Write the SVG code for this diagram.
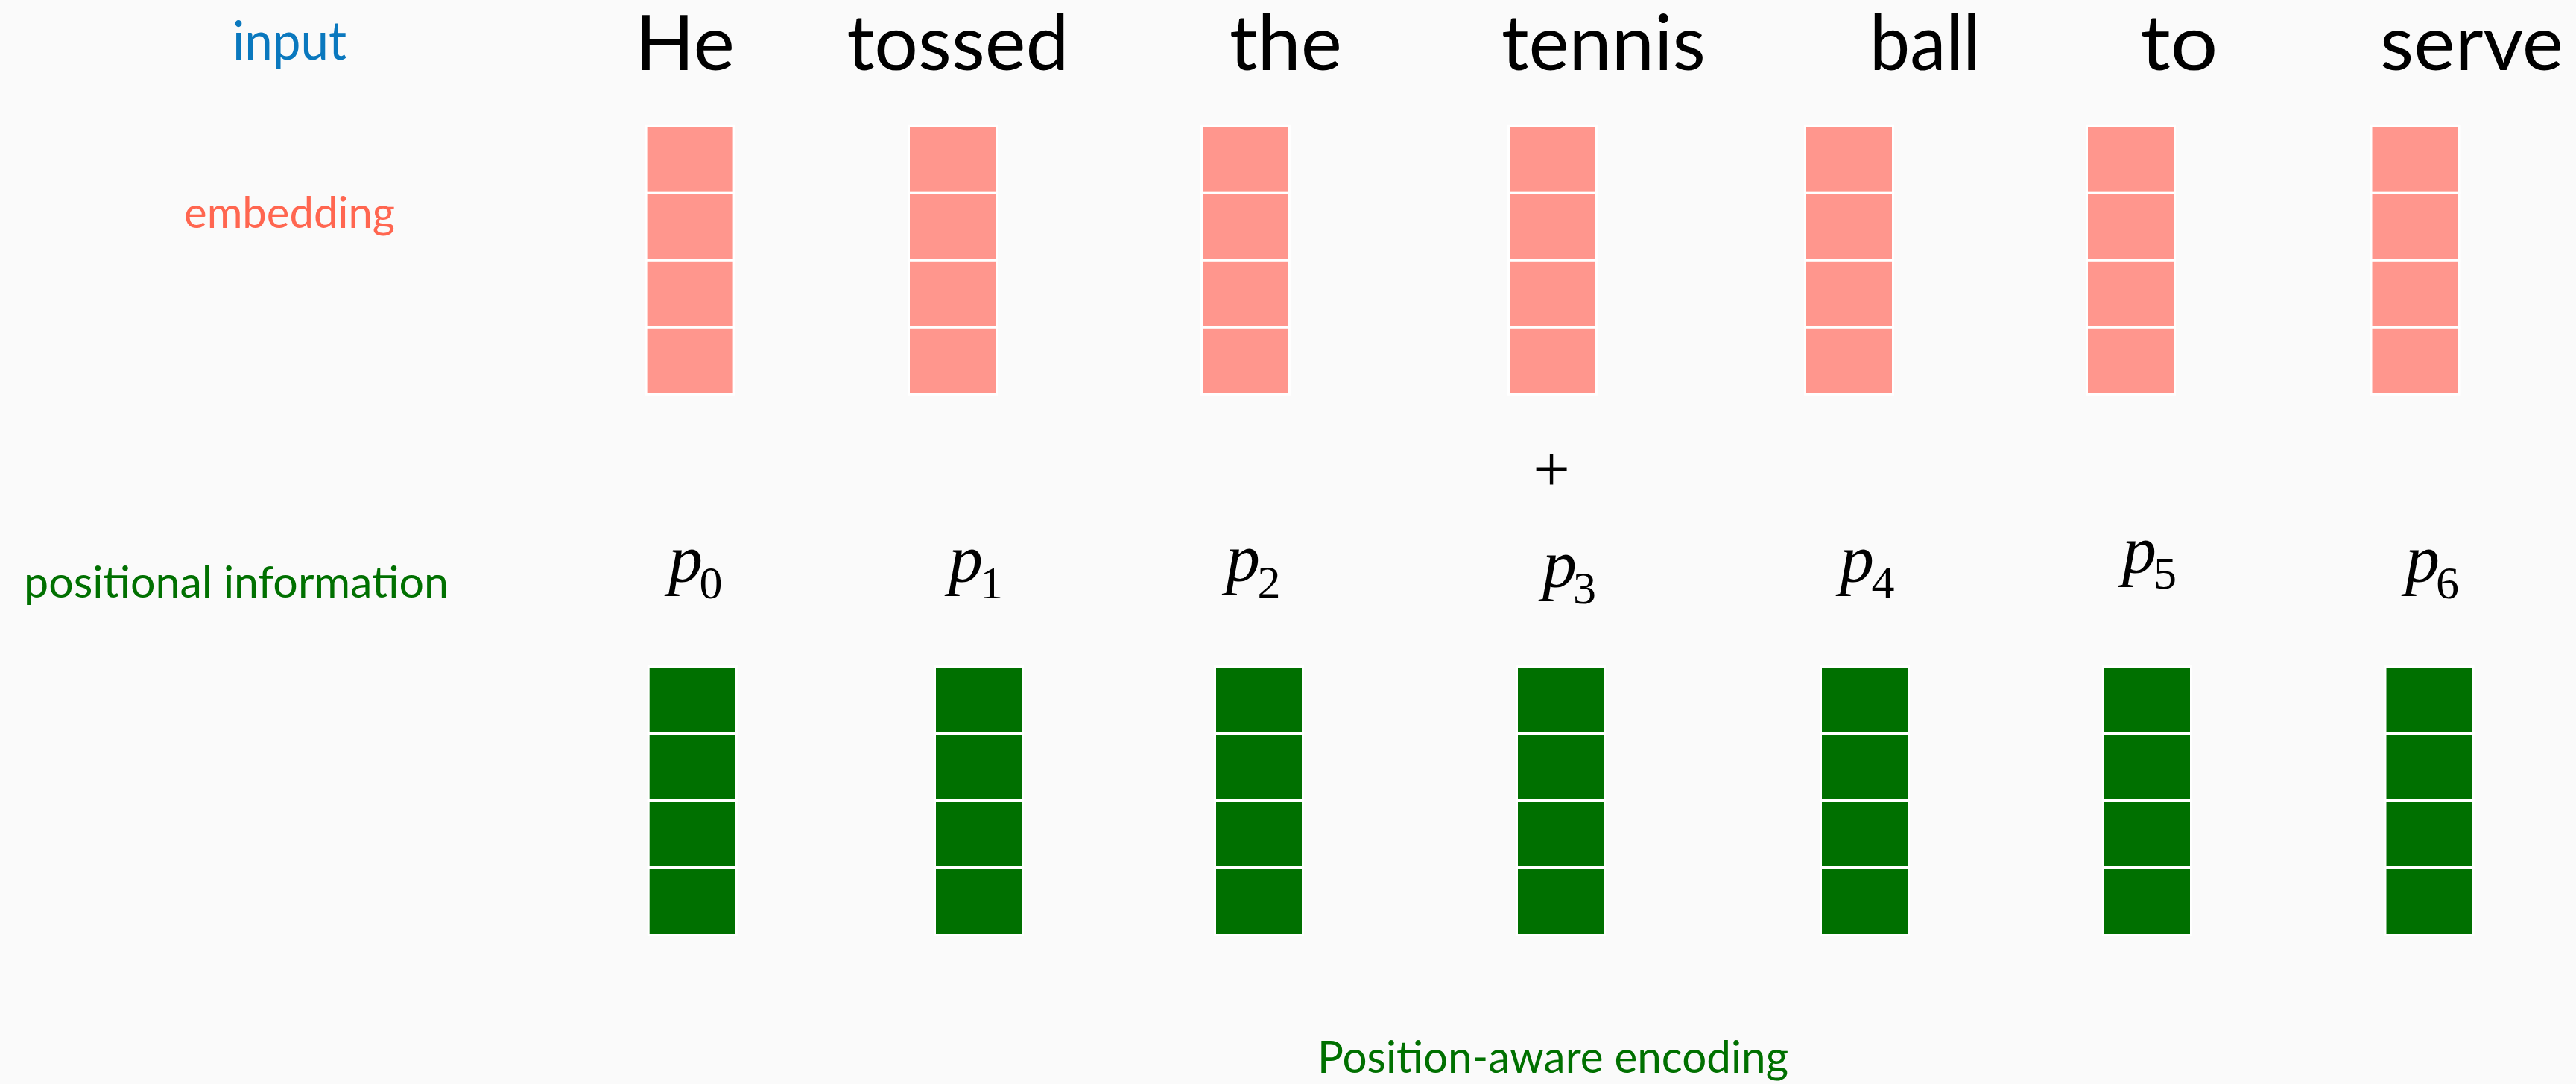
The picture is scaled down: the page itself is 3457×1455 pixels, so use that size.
<svg xmlns="http://www.w3.org/2000/svg" xmlns:xlink="http://www.w3.org/1999/xlink" width="3457" height="1455" viewBox="0 0 3457 1455">
<style>
.word{font-family:Lato,"Open Sans","Liberation Sans",sans-serif;font-size:102px;fill:#000;text-anchor:middle}
.lab{font-family:Lato,"Open Sans","Liberation Sans",sans-serif;font-size:59px;text-anchor:middle}
.math{font-family:"Liberation Serif","DejaVu Serif",serif;fill:#000}
.pi{font-style:italic;font-size:92px}
.sub{font-size:62px}
.pink{fill:#FF968D}
.green{fill:#007000}
</style>
<defs>
<g id="stack" stroke="#FFFFFF" stroke-width="3">
<rect x="0" y="0" width="118" height="90"/>
<rect x="0" y="90" width="118" height="90"/>
<rect x="0" y="180" width="118" height="90"/>
<rect x="0" y="270" width="118" height="90"/>
</g>
</defs>
<rect width="3457" height="1455" fill="#FAFAFA"/>
<g id="labels">
<text class="lab" x="388.5" y="80" style="font-size:71px;fill:#0A78BE" textLength="153" lengthAdjust="spacingAndGlyphs">input</text>
<text class="lab" x="388.5" y="306" style="fill:#FF6650" textLength="283" lengthAdjust="spacingAndGlyphs">embedding</text>
<text class="lab" x="317" y="802" style="fill:#007000" textLength="570" lengthAdjust="spacingAndGlyphs">positional information</text>
<text class="lab" x="2084" y="1440" style="font-size:60px;fill:#007000" textLength="632" lengthAdjust="spacingAndGlyphs">Position-aware encoding</text>
</g>
<g id="words">
<text class="word" x="919" y="93.5" textLength="134" lengthAdjust="spacingAndGlyphs">He</text>
<text class="word" x="1285.5" y="93.5" textLength="298" lengthAdjust="spacingAndGlyphs">tossed</text>
<text class="word" x="1725.5" y="93.5" textLength="151" lengthAdjust="spacingAndGlyphs">the</text>
<text class="word" x="2152" y="93.5" textLength="274" lengthAdjust="spacingAndGlyphs">tennis</text>
<text class="word" x="2583" y="93.5" textLength="148" lengthAdjust="spacingAndGlyphs">ball</text>
<text class="word" x="2924.5" y="93.5" textLength="104" lengthAdjust="spacingAndGlyphs">to</text>
<text class="word" x="3317" y="93.5" textLength="246" lengthAdjust="spacingAndGlyphs">serve</text>
</g>
<g id="embeddings">
<g id="emb0"><use xlink:href="#stack" href="#stack" x="867.1" y="169.3" class="pink"/></g>
<g id="emb1"><use xlink:href="#stack" href="#stack" x="1219.5" y="169.3" class="pink"/></g>
<g id="emb2"><use xlink:href="#stack" href="#stack" x="1612.5" y="169.3" class="pink"/></g>
<g id="emb3"><use xlink:href="#stack" href="#stack" x="2024.5" y="169.3" class="pink"/></g>
<g id="emb4"><use xlink:href="#stack" href="#stack" x="2422.5" y="169.3" class="pink"/></g>
<g id="emb5"><use xlink:href="#stack" href="#stack" x="2800.5" y="169.3" class="pink"/></g>
<g id="emb6"><use xlink:href="#stack" href="#stack" x="3182" y="169.3" class="pink"/></g>
</g>
<g id="plus"><text class="math" x="2082" y="659" text-anchor="middle" style="font-size:88px">+</text></g>
<g id="positions">
<g id="pos0"><text class="math"><tspan class="pi" x="897" y="781">p</tspan><tspan class="sub" x="938.5" y="803">0</tspan></text></g>
<g id="pos1"><text class="math"><tspan class="pi" x="1273" y="781">p</tspan><tspan class="sub" x="1315" y="803">1</tspan></text></g>
<g id="pos2"><text class="math"><tspan class="pi" x="1645" y="780">p</tspan><tspan class="sub" x="1687.5" y="802">2</tspan></text></g>
<g id="pos3"><text class="math"><tspan class="pi" x="2070" y="788">p</tspan><tspan class="sub" x="2111" y="810">3</tspan></text></g>
<g id="pos4"><text class="math"><tspan class="pi" x="2469" y="781">p</tspan><tspan class="sub" x="2511.5" y="802">4</tspan></text></g>
<g id="pos5"><text class="math"><tspan class="pi" x="2848" y="769">p</tspan><tspan class="sub" x="2890" y="790">5</tspan></text></g>
<g id="pos6"><text class="math"><tspan class="pi" x="3228" y="781">p</tspan><tspan class="sub" x="3269" y="803">6</tspan></text></g>
</g>
<g id="encodings">
<g id="enc0"><use xlink:href="#stack" href="#stack" x="870.2" y="894.5" class="green"/></g>
<g id="enc1"><use xlink:href="#stack" href="#stack" x="1254.5" y="894.5" class="green"/></g>
<g id="enc2"><use xlink:href="#stack" href="#stack" x="1630.5" y="894.5" class="green"/></g>
<g id="enc3"><use xlink:href="#stack" href="#stack" x="2035.5" y="894.5" class="green"/></g>
<g id="enc4"><use xlink:href="#stack" href="#stack" x="2443.5" y="894.5" class="green"/></g>
<g id="enc5"><use xlink:href="#stack" href="#stack" x="2822.5" y="894.5" class="green"/></g>
<g id="enc6"><use xlink:href="#stack" href="#stack" x="3201" y="894.5" class="green"/></g>
</g>
<g id="connectors"></g>
</svg>
